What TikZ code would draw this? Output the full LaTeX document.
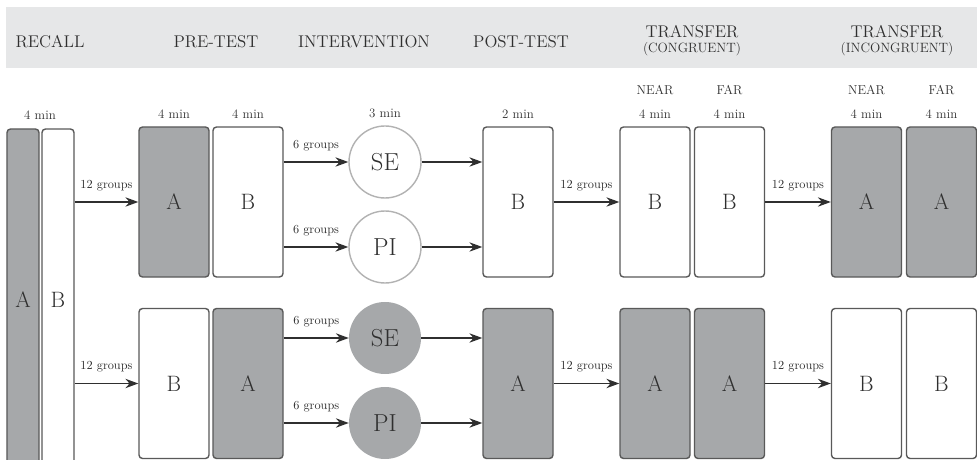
\documentclass[tikz,border=0pt]{standalone}
\usepackage{tikz}
\usetikzlibrary{calc, positioning}
\usetikzlibrary{shapes.geometric, arrows.meta}
\definecolor{band}{HTML}{E6E7E8}
\definecolor{boxgray}{HTML}{A6A8AA}
\definecolor{edge}{HTML}{595959}
\definecolor{ink}{HTML}{2F2F2F}
\tikzstyle{hdr} = [text=ink, font=\fontsize{14.5}{16}\selectfont, align=center]
\tikzstyle{sub} = [text=ink, font=\fontsize{11}{13}\selectfont]
\tikzstyle{cell} = [rectangle, rounded corners=3pt, draw=edge, line width=1.2pt, minimum width=2.1cm, minimum height=4.5cm, text=ink, font=\fontsize{19}{20}\selectfont]
\tikzstyle{grey} = [cell, fill=boxgray]
\tikzstyle{white} = [cell, fill=white]
\tikzstyle{rnd} = [circle, minimum size=2.16cm, inner sep=0pt, text=ink, font=\fontsize{21}{22}\selectfont]
\tikzstyle{rndw} = [rnd, draw=black!30, line width=1.2pt, fill=white]
\tikzstyle{rndg} = [rnd, fill=boxgray]
\tikzstyle{arrow} = [line width=1.2pt, draw=ink, -{Stealth[length=11pt,width=8pt]}]
\tikzstyle{grp} = [midway, above=9pt, inner sep=0pt, text=ink, font=\fontsize{10.5}{12}\selectfont]

\begin{document}
\begin{tikzpicture}[x=0.03cm,y=-0.03cm]
			\clip (0,0) rectangle (977,460);
			\fill[band] (6,7) rectangle (977,68);
			% headings
			\node[hdr] (hRec) at (50,42) {RECALL};
			\node[hdr] (hPre) at (216,42) {PRE-TEST};
			\node[hdr] (hInt) at (364,42) {INTERVENTION};
			\node[hdr] (hPost) at (521,42) {POST-TEST};
			\node[hdr] (hCon) at (692,41) {TRANSFER\\[-3pt]{\fontsize{11.5}{13}\selectfont(CONGRUENT)}};
			\node[hdr] (hInc) at (897,41) {TRANSFER\\[-3pt]{\fontsize{11.5}{13}\selectfont(INCONGRUENT)}};

			% recall
			\node[grey, minimum width=0.96cm, minimum height=10.23cm] (recA) at (23,299.5) {A};
			\node[white, minimum width=0.96cm, minimum height=10.23cm] (recB) at (58,299.5) {B};
			\node[sub] (tRec) at (40,115) {4 min};

			% pre-test
			\node[grey] (preTA) at (174,202) {A};
			\node[white] (preTB) at (248,202) {B};
			\node[white] (preBB) at (174,383.5) {B};
			\node[grey] (preBA) at (248,383.5) {A};
			\node[sub, above=3pt of preTA] (tPreA) {4 min};
			\node[sub, above=3pt of preTB] (tPreB) {4 min};

			% intervention
			\node[rndw] (seT) at (385,162) {SE};
			\node[rndw] (piT) at (385,247) {PI};
			\node[rndg] (seB) at (385,338) {SE};
			\node[rndg] (piB) at (385,423) {PI};
			\node[sub] (tInt) at (385,113) {3 min};

			% post-test
			\node[white] (postT) at (518,202) {B};
			\node[grey] (postB) at (518,383.5) {A};
			\node[sub, above=3pt of postT] (tPost) {2 min};

			% transfer congruent
			\node[white] (nearT) at (655,202) {B};
			\node[white] (farT) at (729.5,202) {B};
			\node[grey] (nearB) at (655,383.5) {A};
			\node[grey] (farB) at (729.5,383.5) {A};
			\node[sub, above=3pt of nearT] (tNear) {4 min};
			\node[sub, above=3pt of farT] (tFar) {4 min};
			\node[sub, above=6pt of tNear] {NEAR};
			\node[sub, above=6pt of tFar] {FAR};

			% transfer incongruent
			\node[grey] (incNearT) at (866.5,202) {A};
			\node[grey] (incFarT) at (941.5,202) {A};
			\node[white] (incNearB) at (866.5,383.5) {B};
			\node[white] (incFarB) at (941.5,383.5) {B};
			\node[sub, above=3pt of incNearT] (tINear) {4 min};
			\node[sub, above=3pt of incFarT] (tIFar) {4 min};
			\node[sub, above=6pt of tINear] {NEAR};
			\node[sub, above=6pt of tIFar] {FAR};

			% connectors
			\draw[arrow] (recB.east |- preTA.west) -- (preTA.west) node[grp]{12 groups};
			\draw[arrow] (recB.east |- preBB.west) -- (preBB.west) node[grp]{12 groups};
			\foreach \p/\c in {preTB/seT, preTB/piT, preBA/seB, preBA/piB}
				\draw[arrow] (\p.east |- \c.west) -- (\c.west) node[grp]{6 groups};
			\draw[arrow] (seT.east) -- (seT.east -| postT.west);
			\draw[arrow] (piT.east) -- (piT.east -| postT.west);
			\draw[arrow] (seB.east) -- (seB.east -| postB.west);
			\draw[arrow] (piB.east) -- (piB.east -| postB.west);
			\draw[arrow] (postT.east) -- (nearT.west) node[grp]{12 groups};
			\draw[arrow] (postB.east) -- (nearB.west) node[grp]{12 groups};
			\draw[arrow] (farT.east) -- (incNearT.west) node[grp]{12 groups};
			\draw[arrow] (farB.east) -- (incNearB.west) node[grp]{12 groups};
		\end{tikzpicture}
\end{document}
